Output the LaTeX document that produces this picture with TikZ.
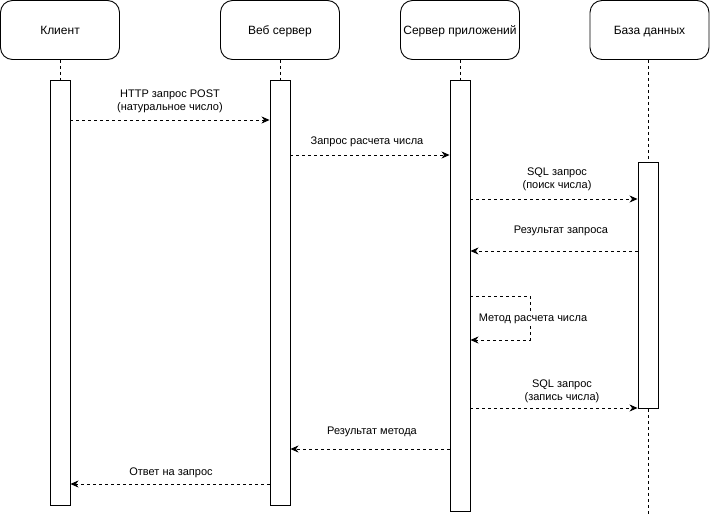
\documentclass[tikz,border=0pt]{standalone}
\usepackage{fontspec}
\setmainfont{Liberation Sans}
\usetikzlibrary{arrows.meta}
\begin{document}
\begin{tikzpicture}[x=1pt,y=-1pt,
 header/.style={draw, rounded corners=12pt, minimum width=119pt, minimum height=59pt, font=\fontsize{12}{14}\selectfont, line width=0.9pt, inner sep=0pt, text height=8.6pt, text depth=0pt},
 act/.style={draw, fill=white, line width=0.9pt, minimum width=20pt, anchor=north, inner sep=0pt},
 life/.style={dash pattern=on 3pt off 3pt, line width=0.8pt},
 msg/.style={dash pattern=on 3pt off 3pt, line width=0.8pt, -{Stealth[length=8pt,width=7pt,inset=2.5pt]}},
 lbl/.style={font=\fontsize{11}{13}\selectfont, align=center, inner sep=1pt}
]
\useasboundingbox (0,0) rectangle (710,514);
% headers
\node[header] (h1) at (60,30) {Клиент};
\node[header] (h2) at (280,30) {Веб сервер};
\node[header] (h3) at (460,30) {Сервер приложений};
\node[header] (h4) at (649.5,30) {База данных};
% activations
\node[act, minimum height=425pt] (a1) at (60,80) {};
\node[act, minimum height=425pt] (a2) at (280,80) {};
\node[act, minimum height=431pt] (a3) at (460,80) {};
\node[act, minimum height=246pt] (a4) at (648,162) {};
\coordinate (dbend) at (648,514);
% lifelines
\draw[life] (h1.south) -- (a1.north);
\draw[life] (h2.south) -- (a2.north);
\draw[life] (h3.south) -- (a3.north);
\draw[life] (h4.south -| a4.north) -- (a4.north);
\draw[life] (a4.south) -- (dbend);
% levels
\coordinate (y1) at (0,120);
\coordinate (y2) at (0,155);
\coordinate (y3) at (0,199);
\coordinate (y4) at (0,251);
\coordinate (y5a) at (0,296);
\coordinate (y5b) at (0,340);
\coordinate (s) at (530,318);
\coordinate (y6) at (0,408);
\coordinate (y7) at (0,449);
\coordinate (y8) at (0,484);
% messages
\draw[msg] (a1.east |- y1) -- (a2.west |- y1);
\node[lbl] (l1) at (170,101.5) {HTTP запрос POST\\(натуральное число)};
\draw[msg] (a2.east |- y2) -- (a3.west |- y2);
\node[lbl] (l2) at (367,142) {Запрос расчета числа};
\draw[msg] (a3.east |- y3) -- (a4.west |- y3);
\node[lbl] (l3) at (557,179.5) {SQL запрос\\(поиск числа)};
\draw[msg] (a4.west |- y4) -- (a3.east |- y4);
\node[lbl] (l4) at (561,231) {Результат запроса};
\draw[msg] (a3.east |- y5a) -| (s) |- (a3.east |- y5b);
\node[lbl, fill=white] (l5) at (533,319) {Метод расчета числа};
\draw[msg] (a3.east |- y6) -- (a4.west |- y6);
\node[lbl] (l6) at (562,391.5) {SQL запрос\\(запись числа)};
\draw[msg] (a3.west |- y7) -- (a2.east |- y7);
\node[lbl] (l7) at (372,432) {Результат метода};
\draw[msg] (a2.west |- y8) -- (a1.east |- y8);
\node[lbl] (l8) at (171,472.5) {Ответ на запрос};
\end{tikzpicture}
\end{document}
